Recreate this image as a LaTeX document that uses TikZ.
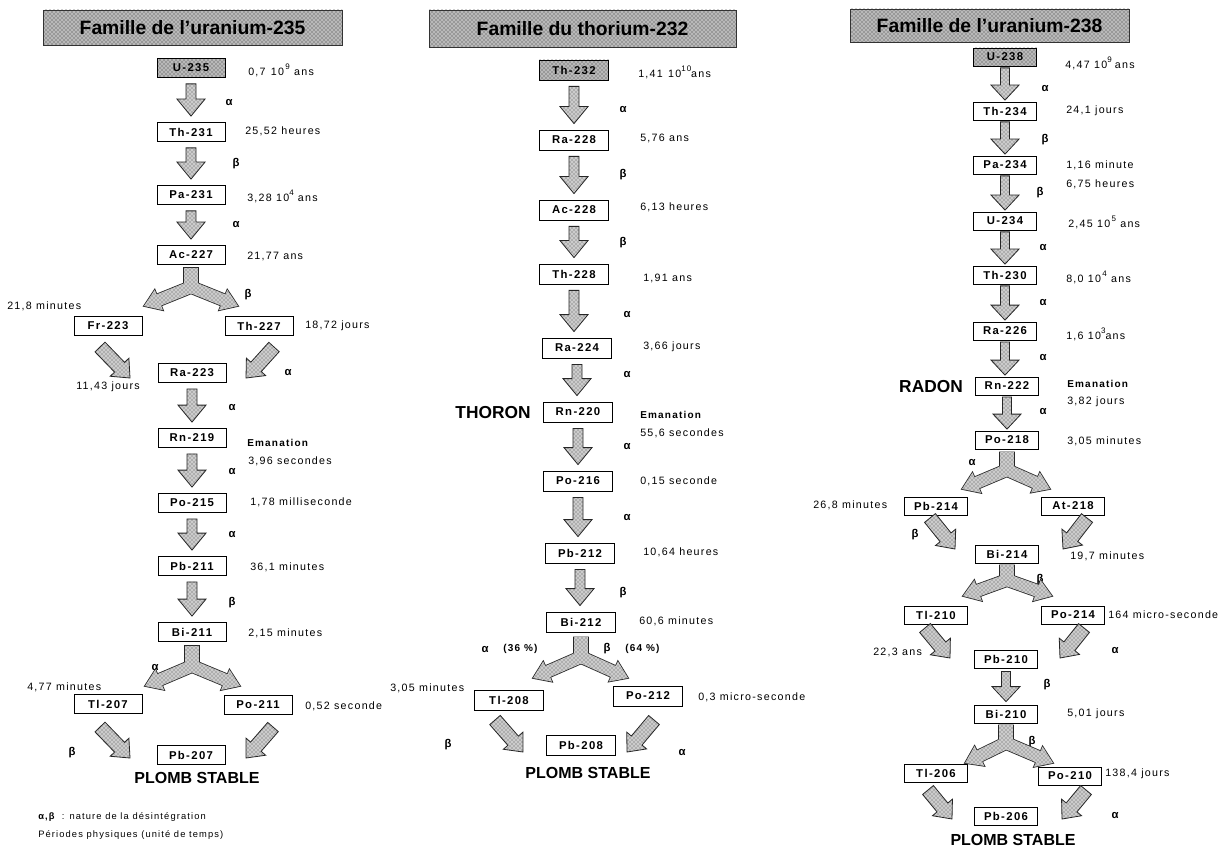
\documentclass[tikz,border=0pt]{standalone}
\usepackage{fontspec}
\setmainfont{Liberation Sans}
\newfontfamily\boxfam[LetterSpace=12]{Liberation Sans}
\newfontfamily\perfam[LetterSpace=12]{Liberation Sans}
\newfontfamily\legfam[LetterSpace=12]{Liberation Sans}
\usetikzlibrary{calc,patterns}
\newcommand\expo[1]{\raisebox{0.55em}{\fontsize{6pt}{6pt}\selectfont #1}}
\tikzset{
  nbox/.style={draw=black, line width=0.6pt, fill=white, inner sep=0pt, minimum height=14.25pt,
    font=\boxfam\bfseries\fontsize{8.5pt}{9pt}\selectfont},
  w1/.style={minimum width=51pt},
  w2/.style={minimum width=51.75pt, minimum height=15pt},
  w3/.style={minimum width=47.25pt, minimum height=13.5pt},
  hatch/.style={preaction={fill=gray!40}, pattern=crosshatch dots, pattern color=black!70},
  darkhatch/.style={preaction={fill=gray!55}, pattern=crosshatch dots, pattern color=black!80},
  fbox/.style={nbox, fill=none, darkhatch},
  per/.style={anchor=west, inner sep=0pt, font=\perfam\fontsize{8pt}{9pt}\selectfont},
  ema/.style={anchor=west, inner sep=0pt, font=\perfam\bfseries\fontsize{7.5pt}{9pt}\selectfont},
  gk/.style={inner sep=0pt, font=\bfseries\fontsize{8.5pt}{9pt}\selectfont},
  big/.style={inner sep=0pt, font=\bfseries\fontsize{12pt}{14pt}\selectfont},
  bigger/.style={inner sep=0pt, font=\bfseries\fontsize{13pt}{15pt}\selectfont},
  leg/.style={anchor=west, inner sep=0pt, font=\legfam\fontsize{7pt}{8pt}\selectfont},
  titlebox/.style={draw=black!80, line width=0.6pt, darkhatch, inner sep=0pt,
    font=\bfseries\fontsize{14.5pt}{16pt}\selectfont},
  outl/.style={draw=black!85, line width=0.6pt}
}
% generic block arrow: start, end, shaft half width (px), head half width (px), head length (px)
\newcommand\blockarrow[5]{%
  \coordinate (hb) at ($(#2)!#5*0.75pt!(#1)$);
  \path[hatch, outl]
    ($(#1)!#3*0.75pt!90:(#2)$) -- ($(hb)!#3*0.75pt!90:(#2)$) -- ($(hb)!#4*0.75pt!90:(#2)$) -- (#2)
    -- ($(hb)!#4*0.75pt!-90:(#2)$) -- ($(hb)!#3*0.75pt!-90:(#2)$) -- ($(#1)!#3*0.75pt!-90:(#2)$) -- cycle;}
\newcommand\arrpoly[3]{($(#1)!4.5pt!90:(#2)$) -- ($(#3)!4.5pt!90:(#2)$) -- ($(#3)!8.25pt!90:(#2)$) -- (#2) -- ($(#3)!8.25pt!-90:(#2)$) -- ($(#3)!4.5pt!-90:(#2)$) -- ($(#1)!4.5pt!-90:(#2)$) -- cycle}
% fork: top, junction, left tip, right tip
\newcommand\forkarrow[4]{%
  \coordinate (fhl) at ($(#3)!12pt!(#2)$);
  \coordinate (fhr) at ($(#4)!12pt!(#2)$);
  \coordinate (fsl) at ($(#2)!-6pt!(#3)$);
  \coordinate (fsr) at ($(#2)!-6pt!(#4)$);
  \path[draw=black!85, line width=1.2pt] ($(#1)+(-7,0)$) rectangle ($(#2)+(7,0)$)
    \arrpoly{fsl}{#3}{fhl} \arrpoly{fsr}{#4}{fhr};
  \path[hatch] ($(#1)+(-7,0)$) rectangle ($(#2)+(7,0)$);
  \path[hatch] \arrpoly{fsl}{#3}{fhl};
  \path[hatch] \arrpoly{fsr}{#4}{fhr};}
% vertical arrows between nodes
\newcommand\varr[3][6]{%
  \coordinate (vs) at ($(#2.south)+(0,#1)$);
  \coordinate (ve) at ($(vs |- #3.north)-(0,#1)$);
  \blockarrow{vs}{ve}{5}{14}{17}}
\newcommand\varrs[3][1.5]{%
  \coordinate (vs) at ($(#2.south)+(0,#1)$);
  \coordinate (ve) at ($(vs |- #3.north)-(0,#1)$);
  \blockarrow{vs}{ve}{4.5}{14}{15}}
\newcommand\darr[2]{\blockarrow{#1}{#2}{7}{13}{15}}
\begin{document}
\begin{tikzpicture}[x=0.75pt,y=-0.75pt]
\useasboundingbox (0,0) rectangle (1226,848);
\fill[white] (0,0) rectangle (1226,848);

% ================= Column 1 : U-235 =================
\node[titlebox, minimum width=224.25pt, minimum height=26.25pt] (tit1) at (192.5,27.5) {Famille de l'uranium-235};
\node[fbox,w1] (u235) at (191,68) {U-235};
\node[nbox,w1] (th231) at (191,132) {Th-231};
\node[nbox,w1] (pa231) at (191,195) {Pa-231};
\node[nbox,w1] (ac227) at (191,255) {Ac-227};
\node[nbox,w1] (fr223) at (108,326) {Fr-223};
\node[nbox,w1] (th227) at (259,326) {Th-227};
\node[nbox,w1] (ra223) at (192,373) {Ra-223};
\node[nbox,w1] (rn219) at (192,438) {Rn-219};
\node[nbox,w1] (po215) at (192,503) {Po-215};
\node[nbox,w1] (pb211) at (192,566) {Pb-211};
\node[nbox,w1] (bi211) at (192,632) {Bi-211};
\node[nbox,w1] (tl207) at (108,704) {Tl-207};
\node[nbox,w1] (po211) at (258,705) {Po-211};
\node[nbox,w1] (pb207) at (191,755) {Pb-207};

\node[per] (a1) at (248,70) {0,7\hspace{0.5em}10\expo{\,9} ans};
\node[per] (a2) at (245,131) {25,52 heures};
\node[per] (a3) at (247,196) {3,28\hspace{0.4em}10\expo{4} ans};
\node[per] (a4) at (247,256) {21,77 ans};
\node[per] (a5) at (7,306) {21,8 minutes};
\node[per] (a6) at (305,326) {18,72 jours};
\node[per] (a7) at (76,387) {11,43 jours};
\node[ema] (a8) at (247,443) {Emanation};
\node[per] (a9) at (248,461) {3,96 secondes};
\node[per] (a10) at (250,502) {1,78 milliseconde};
\node[per] (a11) at (250,567) {36,1 minutes};
\node[per] (a12) at (248,633) {2,15 minutes};
\node[per] (a13) at (27,687) {4,77 minutes};
\node[per] (a14) at (305,706) {0,52 seconde};
\node[big] (a15) at (197,778) {PLOMB STABLE};
\node[leg] (lg1) at (38,817) {{\bfseries α,β}\ \ : nature de la désintégration};
\node[leg] (lg2) at (38,835) {Périodes physiques (unité de temps)};

\node[gk] (g1) at (229,103) {α};
\node[gk] (g2) at (236,164) {β};
\node[gk] (g3) at (236,225) {α};
\node[gk] (g4) at (248,295) {β};
\node[gk] (g5) at (288,373) {α};
\node[gk] (g6) at (232,408) {α};
\node[gk] (g7) at (232,472) {α};
\node[gk] (g8) at (232,535) {α};
\node[gk] (g9) at (232,603) {β};
\node[gk] (g10) at (155,667) {α};
\node[gk] (g11) at (72,753) {β};

\varr{u235}{th231}
\varr{th231}{pa231}
\varr{pa231}{ac227}
\coordinate (f1t) at ($(ac227.south)+(0,3)$);
\coordinate (f1j) at (191,287);
\coordinate (f1l) at (144,306);
\coordinate (f1r) at (238,306);
\forkarrow{f1t}{f1j}{f1l}{f1r}
\coordinate (d1s) at (100,347); \coordinate (d1e) at (130,378);
\darr{d1s}{d1e}
\coordinate (d2s) at (274,347); \coordinate (d2e) at (246,378);
\darr{d2s}{d2e}
\varr{ra223}{rn219}
\varr{rn219}{po215}
\varr{po215}{pb211}
\varr{pb211}{bi211}
\coordinate (f2t) at ($(bi211.south)+(0,4)$);
\coordinate (f2j) at (192,666);
\coordinate (f2l) at (145,686);
\coordinate (f2r) at (240,686);
\forkarrow{f2t}{f2j}{f2l}{f2r}
\coordinate (d3s) at (100,727); \coordinate (d3e) at (130,758);
\darr{d3s}{d3e}
\coordinate (d4s) at (273,727); \coordinate (d4e) at (246,758);
\darr{d4s}{d4e}

% ================= Column 2 : Th-232 =================
\node[titlebox, minimum width=230.25pt, minimum height=27.75pt] (tit2) at (582.5,28.5) {Famille du thorium-232};
\node[fbox,w2] (th232) at (574,70) {Th-232};
\node[nbox,w2] (ra228) at (574,140) {Ra-228};
\node[nbox,w2] (ac228) at (574,210) {Ac-228};
\node[nbox,w2] (th228) at (574,274) {Th-228};
\node[nbox,w2] (ra224) at (577,348) {Ra-224};
\node[nbox,w2] (rn220) at (578,412) {Rn-220};
\node[nbox,w2] (po216) at (578,481) {Po-216};
\node[nbox,w2] (pb212) at (580,553) {Pb-212};
\node[nbox,w2] (bi212) at (581,622) {Bi-212};
\node[nbox,w2] (tl208) at (509,700) {Tl-208};
\node[nbox,w2] (po212) at (648,696) {Po-212};
\node[nbox,w2] (pb208) at (581,745) {Pb-208};

\node[per] (b1) at (638,72) {1,41\hspace{0.5em}10\expo{10}ans};
\node[per] (b2) at (640,138) {5,76 ans};
\node[per] (b3) at (640,207) {6,13 heures};
\node[per] (b4) at (643,278) {1,91 ans};
\node[per] (b5) at (643,347) {3,66 jours};
\node[ema] (b6) at (640,415) {Emanation};
\node[per] (b7) at (640,433) {55,6 secondes};
\node[per] (b8) at (640,481) {0,15 seconde};
\node[per] (b9) at (643,552) {10,64 heures};
\node[per] (b10) at (639,621) {60,6 minutes};
\node[ema] (b11) at (503,649) {(36 \%)};
\node[ema] (b12) at (625,649) {(64 \%)};
\node[per] (b13) at (390,688) {3,05 minutes};
\node[per] (b14) at (698,697) {0,3 micro-seconde};
\node[bigger] (b15) at (493,413) {THORON};
\node[big] (b16) at (588,773) {PLOMB STABLE};

\node[gk] (h1) at (623,110) {α};
\node[gk] (h2) at (623,175) {β};
\node[gk] (h3) at (623,243) {β};
\node[gk] (h4) at (627,315) {α};
\node[gk] (h5) at (627,375) {α};
\node[gk] (h6) at (627,447) {α};
\node[gk] (h7) at (627,518) {α};
\node[gk] (h8) at (623,593) {β};
\node[gk] (h9) at (485,649) {α};
\node[gk] (h10) at (607,649) {β};
\node[gk] (h11) at (448,745) {β};
\node[gk] (h12) at (682,752) {α};

\varr{th232}{ra228}
\varr{ra228}{ac228}
\varr{ac228}{th228}
\varr{th228}{ra224}
\varr{ra224}{rn220}
\varr{rn220}{po216}
\varr{po216}{pb212}
\varr{pb212}{bi212}
\coordinate (f3t) at ($(bi212.south)+(0,5)$);
\coordinate (f3j) at (581,657);
\coordinate (f3l) at (533,678);
\coordinate (f3r) at (628,678);
\forkarrow{f3t}{f3j}{f3l}{f3r}
\coordinate (d5s) at (495,720); \coordinate (d5e) at (523,752);
\darr{d5s}{d5e}
\coordinate (d6s) at (654,720); \coordinate (d6e) at (627,752);
\darr{d6s}{d6e}

% ================= Column 3 : U-238 =================
\node[titlebox, minimum width=209.25pt, minimum height=24.75pt] (tit3) at (989.5,25.5) {Famille de l'uranium-238};
\node[fbox,w3] (u238) at (1005,57) {U-238};
\node[nbox,w3] (th234) at (1005,111) {Th-234};
\node[nbox,w3] (pa234) at (1005,165) {Pa-234};
\node[nbox,w3] (u234) at (1005,221) {U-234};
\node[nbox,w3] (th230) at (1005,275) {Th-230};
\node[nbox,w3] (ra226) at (1005,331) {Ra-226};
\node[nbox,w3] (rn222) at (1007,386) {Rn-222};
\node[nbox,w3] (po218) at (1007,440) {Po-218};
\node[nbox,w3] (pb214) at (936,506) {Pb-214};
\node[nbox,w3] (at218) at (1073,506) {At-218};
\node[nbox,w3] (bi214) at (1007,554) {Bi-214};
\node[nbox,w3] (tl210) at (936,615) {Tl-210};
\node[nbox,w3] (po214) at (1073,615) {Po-214};
\node[nbox,w3] (pb210) at (1006,659) {Pb-210};
\node[nbox,w3] (bi210) at (1006,714) {Bi-210};
\node[nbox,w3] (tl206) at (936,773) {Tl-206};
\node[nbox,w3] (po210) at (1070,776) {Po-210};
\node[nbox,w3] (pb206) at (1006,816) {Pb-206};

\node[per] (c1) at (1065,63) {4,47\hspace{0.4em}10\expo{9}\hspace{0.3em}ans};
\node[per] (c2) at (1066,111) {24,1 jours};
\node[per] (c3) at (1066,165) {1,16 minute};
\node[per] (c4) at (1066,184) {6,75 heures};
\node[per] (c5) at (1068,222) {2,45\hspace{0.4em}10\expo{\,5} ans};
\node[per] (c6) at (1066,277) {8,0\hspace{0.4em}10\expo{\,4} ans};
\node[per] (c7) at (1066,334) {1,6\hspace{0.4em}10\expo{3}ans};
\node[ema] (c8) at (1067,384) {Emanation};
\node[per] (c9) at (1067,402) {3,82 jours};
\node[per] (c10) at (1067,441) {3,05 minutes};
\node[per] (c11) at (813,505) {26,8 minutes};
\node[per] (c12) at (1070,556) {19,7 minutes};
\node[per] (c13) at (1108,615) {164 micro-seconde};
\node[per] (c14) at (873,652) {22,3 ans};
\node[per] (c15) at (1067,714) {5,01 jours};
\node[per] (c16) at (1105,774) {138,4 jours};
\node[bigger] (c17) at (931,387) {RADON};
\node[big] (c18) at (1013,840) {PLOMB STABLE};

\node[gk] (k1) at (1045,89) {α};
\node[gk] (k2) at (1045,140) {β};
\node[gk] (k3) at (1040,193) {β};
\node[gk] (k4) at (1043,248) {α};
\node[gk] (k5) at (1043,303) {α};
\node[gk] (k6) at (1043,358) {α};
\node[gk] (k7) at (1043,412) {α};
\node[gk] (k8) at (972,463) {α};
\node[gk] (k9) at (915,535) {β};
\node[gk] (k10) at (1040,580) {β};
\node[gk] (k11) at (1115,650) {α};
\node[gk] (k12) at (1047,685) {β};
\node[gk] (k13) at (1032,742) {β};
\node[gk] (k14) at (1115,815) {α};

\varrs{u238}{th234}
\varrs{th234}{pa234}
\varrs{pa234}{u234}
\varrs{u234}{th230}
\varrs{th230}{ra226}
\varrs{ra226}{rn222}
\varrs{rn222}{po218}
\coordinate (f4t) at ($(po218.south)+(0,3)$);
\coordinate (f4j) at (1007,470);
\coordinate (f4l) at (962,489);
\coordinate (f4r) at (1050,489);
\forkarrow{f4t}{f4j}{f4l}{f4r}
\coordinate (d7s) at (930,518); \coordinate (d7e) at (955,549);
\darr{d7s}{d7e}
\coordinate (d8s) at (1087,518); \coordinate (d8e) at (1063,549);
\darr{d8s}{d8e}
\coordinate (f5t) at ($(bi214.south)+(0,2)$);
\coordinate (f5j) at (1007,580);
\coordinate (f5l) at (963,596);
\coordinate (f5r) at (1052,596);
\forkarrow{f5t}{f5j}{f5l}{f5r}
\coordinate (d9s) at (925,628); \coordinate (d9e) at (950,658);
\darr{d9s}{d9e}
\coordinate (d10s) at (1084,628); \coordinate (d10e) at (1060,658);
\darr{d10s}{d10e}
\varrs[3]{pb210}{bi210}
\coordinate (f6t) at ($(bi210.south)+(0,2)$);
\coordinate (f6j) at (1006,743);
\coordinate (f6l) at (965,763);
\coordinate (f6r) at (1053,763);
\forkarrow{f6t}{f6j}{f6l}{f6r}
\coordinate (d11s) at (928,790); \coordinate (d11e) at (952,819);
\darr{d11s}{d11e}
\coordinate (d12s) at (1086,790); \coordinate (d12e) at (1062,819);
\darr{d12s}{d12e}
\end{tikzpicture}
\end{document}
